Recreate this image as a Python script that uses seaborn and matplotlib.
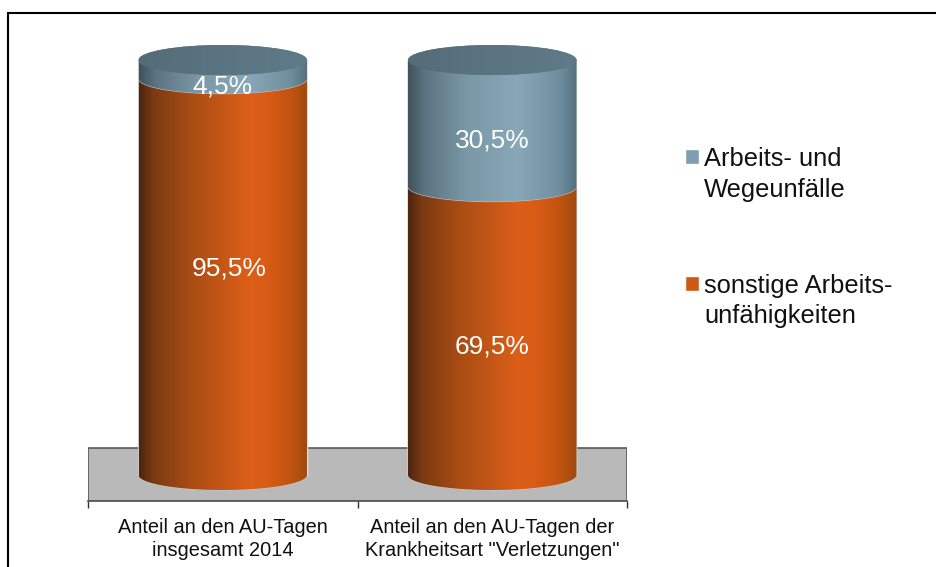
import matplotlib
matplotlib.use("Agg")

import matplotlib.pyplot as plt
import numpy as np
import seaborn as sns
from matplotlib.colors import LinearSegmentedColormap
from matplotlib.lines import Line2D
from matplotlib.patches import Ellipse, Patch, Polygon

categories = ["Anteil an den AU-Tagen\ninsgesamt 2014", "Anteil an den AU-Tagen der\nKrankheitsart \"Verletzungen\""]
unfaelle = [4.5, 30.5]
sonstige = [95.5, 69.5]
unfaelle_label = "Arbeits- und\nWegeunfälle"
sonstige_label = "sonstige Arbeits-\nunfähigkeiten"
unfaelle_text = ["4,5%", "30,5%"]
sonstige_text = ["95,5%", "69,5%"]

W, H = 936, 567
ORANGE = "#cc5a14"
BLUE = "#7f9eb0"
ORANGE_CMAP = LinearSegmentedColormap.from_list(
    "orange", [(0, "#4a2510"), (0.08, "#7a3a12"), (0.3, "#a84c14"), (0.65, "#dc5f18"),
               (0.75, "#d95c17"), (0.9, "#c0540f"), (1, "#a04a10")])
BLUE_CMAP = LinearSegmentedColormap.from_list(
    "blue", [(0, "#3e525c"), (0.1, "#5c7482"), (0.35, "#7a98a6"), (0.65, "#88a8b8"),
             (0.9, "#6f8e9d"), (1, "#54707e")])
TOP_CMAP = LinearSegmentedColormap.from_list("top", ["#546c78", "#5a7482", "#5f7a88"])

# pixels per percent and half height of the ellipses
PX_PER_UNIT = 4.15
ELLIPSE_H = 2 * 15 / PX_PER_UNIT

sns.set_theme(style="white")
plt.rcParams["font.family"] = ["Liberation Sans", "DejaVu Sans"]

fig = plt.figure(figsize=(W / 100, H / 100), dpi=100)
ax = fig.add_axes([88 / W, 1 - 500.5 / H, 539 / W, 486.5 / H])

sns.barplot(x=categories, y=sonstige, color=ORANGE, width=0.625, saturation=1, ax=ax, zorder=2)
n_orange = len(ax.patches)
sns.barplot(x=categories, y=unfaelle, bottom=sonstige, color=BLUE, width=0.625, saturation=1, ax=ax, zorder=2)

ax.set_xlim(-0.5, 1.5)
ax.set_ylim(-25.5 / PX_PER_UNIT, 100 + 46 / PX_PER_UNIT)
xlim, ylim = ax.get_xlim(), ax.get_ylim()

# floor of the 3d chart
ax.axhspan(ylim[0], 27 / PX_PER_UNIT, facecolor="#b9b9b9", edgecolor="#5a5a5a", linewidth=1.2, zorder=1)

gradient = np.linspace(0, 1, 256).reshape(1, -1)


def draw_segment(bar, cmap, zorder):
    """Paints a bar as a shaded cylinder part with a rounded lower edge."""
    x0, x1 = bar.get_x(), bar.get_x() + bar.get_width()
    y0, y1 = bar.get_y(), bar.get_y() + bar.get_height()
    t = np.linspace(np.pi, 2 * np.pi, 80)
    xs = (x0 + x1) / 2 + (x1 - x0) / 2 * np.cos(t)
    ys = y0 + ELLIPSE_H / 2 * np.sin(t)
    outline = np.column_stack([np.r_[x0, xs, x1], np.r_[y1, ys, y1]])
    shape = Polygon(outline, closed=True, facecolor=ORANGE, edgecolor="#c8c8c8",
                    linewidth=0.8, zorder=zorder - 0.1, transform=ax.transData)
    ax.add_patch(shape)
    im = ax.imshow(gradient, cmap=cmap, extent=[x0, x1, y0 - ELLIPSE_H, y1], aspect="auto",
                   interpolation="bilinear", zorder=zorder)
    im.set_clip_path(Polygon(outline, closed=True, transform=ax.transData))


for bar in ax.patches[:n_orange]:
    draw_segment(bar, ORANGE_CMAP, 3)
for bar in ax.patches[n_orange:n_orange + len(categories)]:
    draw_segment(bar, BLUE_CMAP, 4)
    x0, x1 = bar.get_x(), bar.get_x() + bar.get_width()
    y1 = bar.get_y() + bar.get_height()
    top = Ellipse(((x0 + x1) / 2, y1), x1 - x0, ELLIPSE_H, facecolor=TOP_CMAP(0.5), edgecolor="none", zorder=5)
    ax.add_patch(top)
    im = ax.imshow(gradient, cmap=TOP_CMAP, extent=[x0, x1, y1 - ELLIPSE_H, y1 + ELLIPSE_H], aspect="auto",
                   interpolation="bilinear", zorder=6)
    im.set_clip_path(top)

ax.set_xlim(xlim)
ax.set_ylim(ylim)

# value labels, nudged the way they sit in the original
for i in range(len(categories)):
    ax.annotate(sonstige_text[i], (i, sonstige[i] / 2), xytext=([4.3, 0][i], [6, -11][i]), textcoords="offset points",
                ha="center", va="center", color="white", fontsize=19, zorder=8)
    ax.annotate(unfaelle_text[i], (i, sonstige[i] + unfaelle[i] / 2), xytext=(0, -12.5), textcoords="offset points",
                ha="center", va="center", color="white", fontsize=19, zorder=8)

sns.despine(ax=ax, left=True, top=True, right=True)
ax.spines["bottom"].set_color("#555555")
ax.set_yticks([])
ax.set_xticks([-0.5, 0.5, 1.5], minor=True)
ax.tick_params(axis="x", which="minor", bottom=True, length=5, width=1, color="#333333")
ax.tick_params(axis="x", which="major", bottom=False, labelsize=14.4, labelcolor="#111111", pad=6.5)
for label in ax.get_xticklabels():
    label.set_linespacing(1.28)
ax.set_xlabel("")

handles = [Patch(facecolor=BLUE, label=unfaelle_label), Patch(facecolor=ORANGE, label=sonstige_label)]
leg = fig.legend(handles=handles, loc="upper left", bbox_to_anchor=(677.5 / W, 1 - 139 / H), frameon=False,
                 fontsize=18.4, handlelength=0.55, handleheight=0.55, handletextpad=0.2, labelspacing=2.82,
                 labelcolor="#111111", borderaxespad=0, borderpad=0.3)
for text in leg.get_texts():
    text.set_linespacing(1.36)
for patch in leg.get_patches():
    patch.set_y(patch.get_y() + 13)

# frame, only left and top are visible
fig.add_artist(Line2D([8 / W, 8 / W, 1], [0, 1 - 13 / H, 1 - 13 / H], color="black", linewidth=1.5,
                      transform=fig.transFigure, solid_joinstyle="miter"))

fig.savefig("out.png", dpi=100)
